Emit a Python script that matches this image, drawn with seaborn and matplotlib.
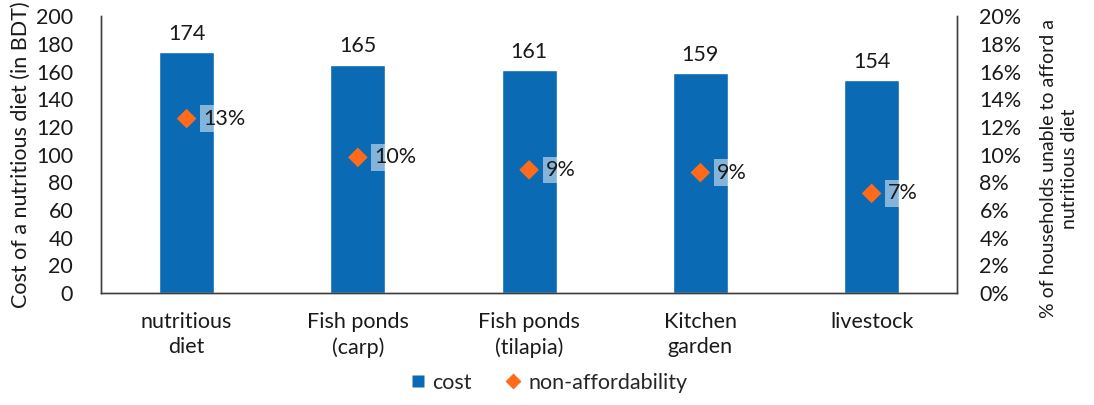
import matplotlib
matplotlib.use("Agg")
import matplotlib.pyplot as plt
from matplotlib.lines import Line2D
import seaborn as sns
import pandas as pd

categories = ["nutritious\ndiet", "Fish ponds\n(carp)", "Fish ponds\n(tilapia)", "Kitchen\ngarden", "livestock"]
cost = [174, 165, 161, 159, 154]
non_affordability = [0.126, 0.098, 0.089, 0.087, 0.072]
left_ticks = list(range(0, 201, 20))
right_ticks = [i / 100 for i in range(0, 21, 2)]

BAR_COLOR = "#0A6AB4"
DIAMOND_COLOR = "#FF6B1A"
TEXT_COLOR = "#1a1a1a"
FS = 15.5

sns.set_theme(style="white")
plt.rcParams["font.family"] = ["Lato", "DejaVu Sans"]

df = pd.DataFrame({"category": categories, "cost": cost, "pct": non_affordability})

fig = plt.figure(figsize=(10.94, 4.05), dpi=100)
ax = fig.add_axes([0.0923, 0.2765, 0.875 - 0.0923, 0.960 - 0.2765])

sns.barplot(data=df, x="category", y="cost", color=BAR_COLOR, width=0.32,
            saturation=1, ax=ax, zorder=2)
ax.set_xlim(-0.5, len(categories) - 0.5)
ax.set_ylim(0, 200)
ax.set_yticks(left_ticks)
ax.set_yticklabels([str(t) for t in left_ticks], fontsize=FS, color=TEXT_COLOR)
ax.set_xticks(range(len(categories)))
ax.set_xticklabels(categories, fontsize=FS, color=TEXT_COLOR, linespacing=1.3)
ax.tick_params(axis="x", length=0, pad=14)
ax.tick_params(axis="y", length=0, pad=20)
ax.set_xlabel("")
ax.set_ylabel("Cost of a nutritious diet (in BDT)", fontsize=FS, color=TEXT_COLOR, labelpad=4)

for i, v in enumerate(cost):
    ax.annotate(str(v), (i, v), xytext=(0, 6), textcoords="offset points",
                ha="center", va="bottom", fontsize=FS, color=TEXT_COLOR)

ax2 = ax.twinx()
sns.scatterplot(data=df, x="category", y="pct", marker="D", s=100, color=DIAMOND_COLOR,
                edgecolor="none", ax=ax2, zorder=3)
ax2.set_ylim(0, 0.20)
ax2.set_yticks(right_ticks)
ax2.set_yticklabels([f"{int(round(t * 100))}%" for t in right_ticks], fontsize=FS, color=TEXT_COLOR)
ax2.tick_params(axis="y", length=0, pad=16)
ax2.set_ylabel("% of households unable to afford a\nnutritious diet", fontsize=14,
               color=TEXT_COLOR, rotation=90, linespacing=1.25)
ax2.yaxis.set_label_coords(1.097, 0.45)
ax2.set_xlabel("")

for i, p in enumerate(non_affordability):
    ax2.annotate(f"{p:.0%}", (i, p), xytext=(12, 0), textcoords="offset points",
                 ha="left", va="center", fontsize=FS, color=TEXT_COLOR,
                 bbox=dict(boxstyle="square,pad=0.15", facecolor="white",
                           edgecolor="none", alpha=0.5))

for a in (ax, ax2):
    a.spines["top"].set_visible(False)
    for s in ("left", "right", "bottom"):
        a.spines[s].set_color("#404040")
        a.spines[s].set_linewidth(1.0)

handles = [
    Line2D([0], [0], marker="s", linestyle="none", markersize=9,
           markerfacecolor=BAR_COLOR, markeredgecolor="none", label="cost"),
    Line2D([0], [0], marker="D", linestyle="none", markersize=8,
           markerfacecolor=DIAMOND_COLOR, markeredgecolor="none", label="non-affordability"),
]
fig.legend(handles=handles, loc="center", bbox_to_anchor=(0.5, 0.055), ncol=2,
           frameon=False, fontsize=FS, handletextpad=0.2, columnspacing=1.4,
           handlelength=1.0)

fig.savefig("out.png", dpi=100)
